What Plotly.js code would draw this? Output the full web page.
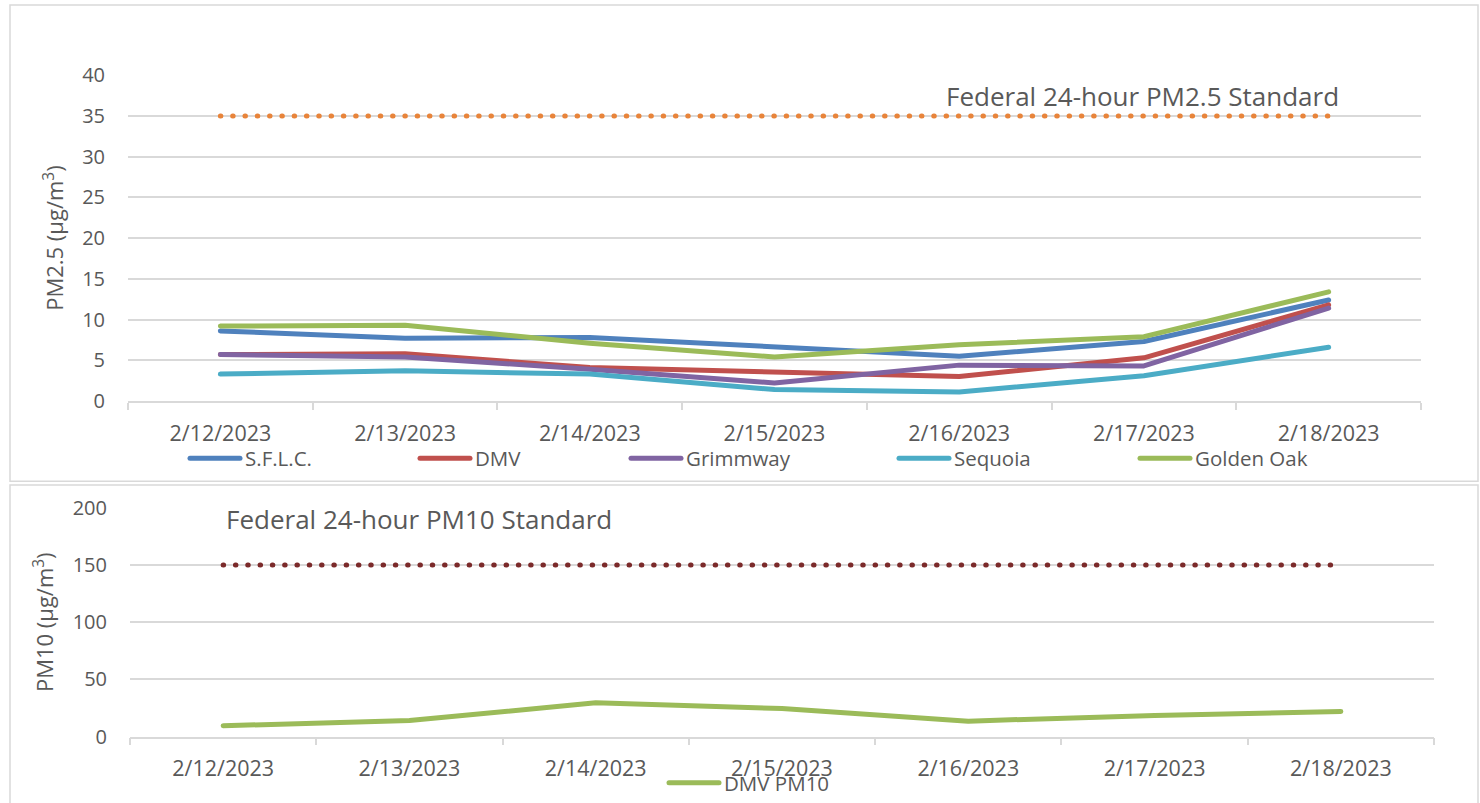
<!DOCTYPE html>
<html><head><meta charset="utf-8">
<script src="https://cdn.plot.ly/plotly-3.0.1.min.js"></script>
<style>
html,body{margin:0;padding:0;background:#fff;}
#chart{width:1480px;height:803px;}
path.js-line{stroke-linecap:round;stroke-linejoin:round;}
</style></head><body><div id="chart"></div>
<script>
// ---- data ----
const dates = ["2/12/2023","2/13/2023","2/14/2023","2/15/2023","2/16/2023","2/17/2023","2/18/2023"];
const sflc      = [8.6, 7.7, 7.8, 6.6, 5.5, 7.3, 12.4];
const dmv       = [5.7, 5.8, 4.1, 3.5, 3.0, 5.3, 11.8];
const grimmway  = [5.7, 5.4, 3.9, 2.2, 4.4, 4.3, 11.4];
const sequoia   = [3.3, 3.7, 3.3, 1.4, 1.1, 3.1, 6.6];
const goldenOak = [9.2, 9.3, 7.1, 5.4, 6.9, 7.9, 13.4];
const pm25Standard = [35, 35, 35, 35, 35, 35, 35];
const dmvPM10   = [9.5, 14, 29.5, 24.5, 13.5, 18.5, 22];
const pm10Standard = [150, 150, 150, 150, 150, 150, 150];
const pm25Ticks = [0, 5, 10, 15, 20, 25, 30, 35, 40];
const pm10Ticks = [0, 50, 100, 150, 200];

// ---- geometry helpers ----
const W = 1480, H = 803;
const px = x => x / W;
const py = y => 1 - y / H;
const FONT = "Open Sans, sans-serif";
const GREY = "#595959";
const GRID = "#D9D9D9";

function line(name, y, color, xa, ya, legend) {
  return {type: "scatter", mode: "lines", name: name, x: dates, y: y,
    xaxis: xa, yaxis: ya, legend: legend,
    line: {color: color, width: 5}, hoverinfo: "x+y+name"};
}
function stdLine(name, y, color, xa, ya) {
  return {type: "scatter", mode: "lines", name: name, x: dates, y: y,
    xaxis: xa, yaxis: ya, showlegend: false,
    line: {color: color, width: 5, dash: "0.5px,11.8px"}};
}

const traces = [
  stdLine("Federal 24-hour PM2.5 Standard", pm25Standard, "#E8843A", "x", "y"),
  line("S.F.L.C.", sflc, "#4F81BD", "x", "y", "legend"),
  line("DMV", dmv, "#C0504D", "x", "y", "legend2"),
  line("Grimmway", grimmway, "#8064A2", "x", "y", "legend3"),
  line("Sequoia", sequoia, "#4BACC6", "x", "y", "legend4"),
  line("Golden Oak", goldenOak, "#9BBB59", "x", "y", "legend5"),
  stdLine("Federal 24-hour PM10 Standard", pm10Standard, "#7B2A2A", "x2", "y2"),
  line("DMV PM10", dmvPM10, "#9BBB59", "x2", "y2", "legend6")
];

function xAxis(d0, d1, anchor) {
  return {type: "category", domain: [d0, d1], anchor: anchor, range: [-0.5, 6.5],
    showgrid: false, zeroline: false, showline: true, linecolor: GRID, linewidth: 1.5,
    ticks: "outside", tickson: "boundaries", ticklen: 7, tickwidth: 1.5, tickcolor: GRID,
    ticklabelstandoff: 12, tickfont: {family: FONT, size: 21.5, color: GREY}, fixedrange: true};
}
function yAxis(d0, d1, anchor, range, ticks, title) {
  return {domain: [d0, d1], anchor: anchor, range: range, tickvals: ticks,
    showgrid: true, gridcolor: GRID, gridwidth: 1.5, zeroline: false, showline: false,
    ticks: "", ticklabelstandoff: 22, tickfont: {family: FONT, size: 20, color: GREY},
    title: {text: title, font: {family: FONT, size: 22, color: GREY}, standoff: 12},
    fixedrange: true};
}
function legendAt(xpix, ypix) {
  return {x: px(xpix), y: py(ypix), xanchor: "left", yanchor: "middle",
    orientation: "h", bgcolor: "rgba(0,0,0,0)", borderwidth: 0,
    itemwidth: 50, font: {family: FONT, size: 20.5, color: GREY}};
}

const layout = {
  width: W, height: H, margin: {l: 0, r: 0, t: 0, b: 0},
  paper_bgcolor: "#fff", plot_bgcolor: "rgba(0,0,0,0)",
  font: {family: FONT, color: GREY},
  xaxis: xAxis(px(128), px(1421), "y"),
  yaxis: yAxis(py(405), py(76), "x", [0, 40], pm25Ticks, "PM2.5 (µg/m<sup>3</sup>)"),
  xaxis2: xAxis(px(130), px(1434), "y2"),
  yaxis2: yAxis(py(744), py(513), "x2", [0, 200], pm10Ticks, "PM10 (µg/m<sup>3</sup>)"),
  legend: legendAt(185, 463),
  legend2: legendAt(415, 463),
  legend3: legendAt(626, 463),
  legend4: legendAt(894, 463),
  legend5: legendAt(1135, 463),
  legend6: legendAt(664, 791),
  annotations: [
    {text: "Federal 24-hour PM2.5 Standard", xref: "paper", yref: "paper",
     x: px(1341), y: py(97), xanchor: "right", yanchor: "middle", showarrow: false,
     font: {family: FONT, size: 26, color: GREY}},
    {text: "Federal 24-hour PM10 Standard", xref: "paper", yref: "paper",
     x: px(224), y: py(524), xanchor: "left", yanchor: "middle", showarrow: false,
     font: {family: FONT, size: 26, color: GREY}}
  ],
  shapes: [
    {type: "rect", xref: "paper", yref: "paper", x0: px(10), x1: px(1478), y0: py(486), y1: py(5),
     line: {color: GRID, width: 1.5}, layer: "below"},
    {type: "rect", xref: "paper", yref: "paper", x0: px(10), x1: px(1478), y0: py(815), y1: py(490),
     line: {color: GRID, width: 1.5}, layer: "below"}
  ],
  showlegend: true
};

Plotly.newPlot("chart", traces, layout, {displayModeBar: false, staticPlot: false});
</script></body></html>
